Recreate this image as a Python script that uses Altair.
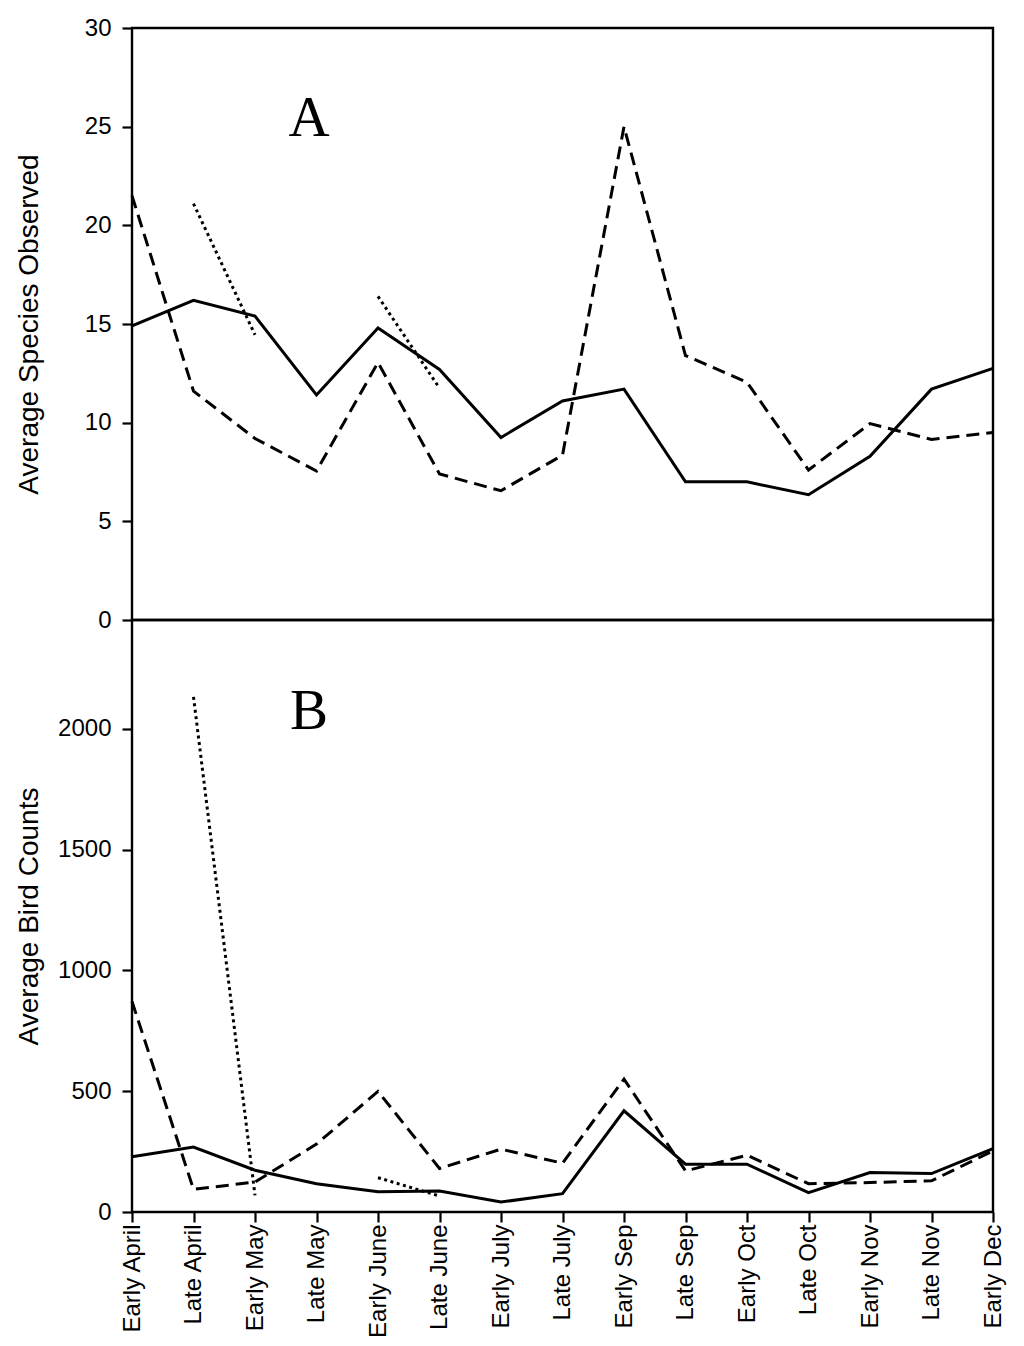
import altair as alt
import pandas as pd

periods = ["Early April", "Late April", "Early May", "Late May", "Early June",
           "Late June", "Early July", "Late July", "Early Sep", "Late Sep",
           "Early Oct", "Late Oct", "Early Nov", "Late Nov", "Early Dec"]

species_solid = [14.9, 16.2, 15.4, 11.4, 14.8, 12.7, 9.25, 11.1, 11.7, 7.0, 7.0, 6.35, 8.3, 11.7, 12.75]
species_dashed = [21.5, 11.6, 9.2, 7.55, 13.05, 7.4, 6.55, 8.35, 25.0, 13.4, 12.05, 7.6, 9.95, 9.15, 9.5]

counts_solid = [229, 269, 173, 117, 84, 87, 41, 76, 419, 198, 198, 80, 163, 159, 262]
counts_dashed = [871, 94, 124, 281, 499, 180, 260, 202, 550, 170, 235, 117, 122, 129, 253]

dot_periods = ["Late April", "Early May", "Early June", "Late June"]
dot_segment = ["s1", "s1", "s2", "s2"]
species_dotted = [21.1, 14.45, 16.4, 11.75]
counts_dotted = [2132, 69, 142, 66]

FONT = "Liberation Sans"
W = 861
H = 592

df_species = pd.DataFrame({"period": periods, "solid": species_solid, "dashed": species_dashed})
df_counts = pd.DataFrame({"period": periods, "solid": counts_solid, "dashed": counts_dashed})
df_sp_dot = pd.DataFrame({"period": dot_periods, "seg": dot_segment, "value": species_dotted})
df_ct_dot = pd.DataFrame({"period": dot_periods, "seg": dot_segment, "value": counts_dotted})

xscale = alt.Scale(domain=periods, padding=0)


def panel(df, df_dot, ydomain, yvalues, ytitle, letter, letter_y, show_x):
    if show_x:
        xaxis = alt.Axis(title=None, labelAngle=270, labelAlign="right", labelBaseline="middle",
                         labelPadding=2, tickSize=10, domain=False)
    else:
        xaxis = None
    x = alt.X("period:O", sort=periods, scale=xscale, axis=xaxis)
    yaxis = alt.Axis(title=ytitle, values=yvalues, format="d", titleX=-103, titleBaseline="middle",
                     titleAngle=270, labelPadding=11, tickSize=10, domain=False)
    yscale = alt.Scale(domain=ydomain, nice=False, zero=True)

    base = alt.Chart(df)
    solid = base.mark_line(color="black", strokeWidth=3).encode(
        x=x, y=alt.Y("solid:Q", scale=yscale, axis=yaxis))
    dashed = base.mark_line(color="black", strokeWidth=3, strokeDash=[13, 7]).encode(
        x=x, y=alt.Y("dashed:Q", scale=yscale, axis=yaxis))
    dotted = alt.Chart(df_dot).mark_line(color="black", strokeWidth=3, strokeDash=[3, 3.5]).encode(
        x=x, y=alt.Y("value:Q", scale=yscale, axis=yaxis), detail="seg:N")
    label = alt.Chart(alt.Data(values=[{"t": letter}])).mark_text(
        font="Liberation Serif", fontSize=57, color="black", align="center",
        baseline="alphabetic").encode(
        x=alt.value(177), y=alt.value(letter_y), text="t:N")
    return alt.layer(solid, dashed, dotted, label).properties(width=W, height=H)


top = panel(df_species, df_sp_dot, [0, 30], [0, 5, 10, 15, 20, 25, 30],
            "Average Species Observed", "A", 108, False)
bottom = panel(df_counts, df_ct_dot, [0, 2450], [0, 500, 1000, 1500, 2000],
               "Average Bird Counts", "B", 109, True)

chart = alt.vconcat(top, bottom, spacing=0, bounds="flush").properties(
    padding={"left": 5, "top": 6, "right": 5, "bottom": 5}
).configure_view(
    stroke="black", strokeWidth=2.4
).configure_axis(
    grid=False, labelFont=FONT, labelFontSize=24, labelColor="black",
    titleFont=FONT, titleFontSize=28, titleFontWeight="normal", titleColor="black",
    tickColor="black", tickWidth=2.2, domainColor="black"
).configure_concat(spacing=0)

chart.save("out.html", embed_options={"renderer": "svg", "actions": False})
